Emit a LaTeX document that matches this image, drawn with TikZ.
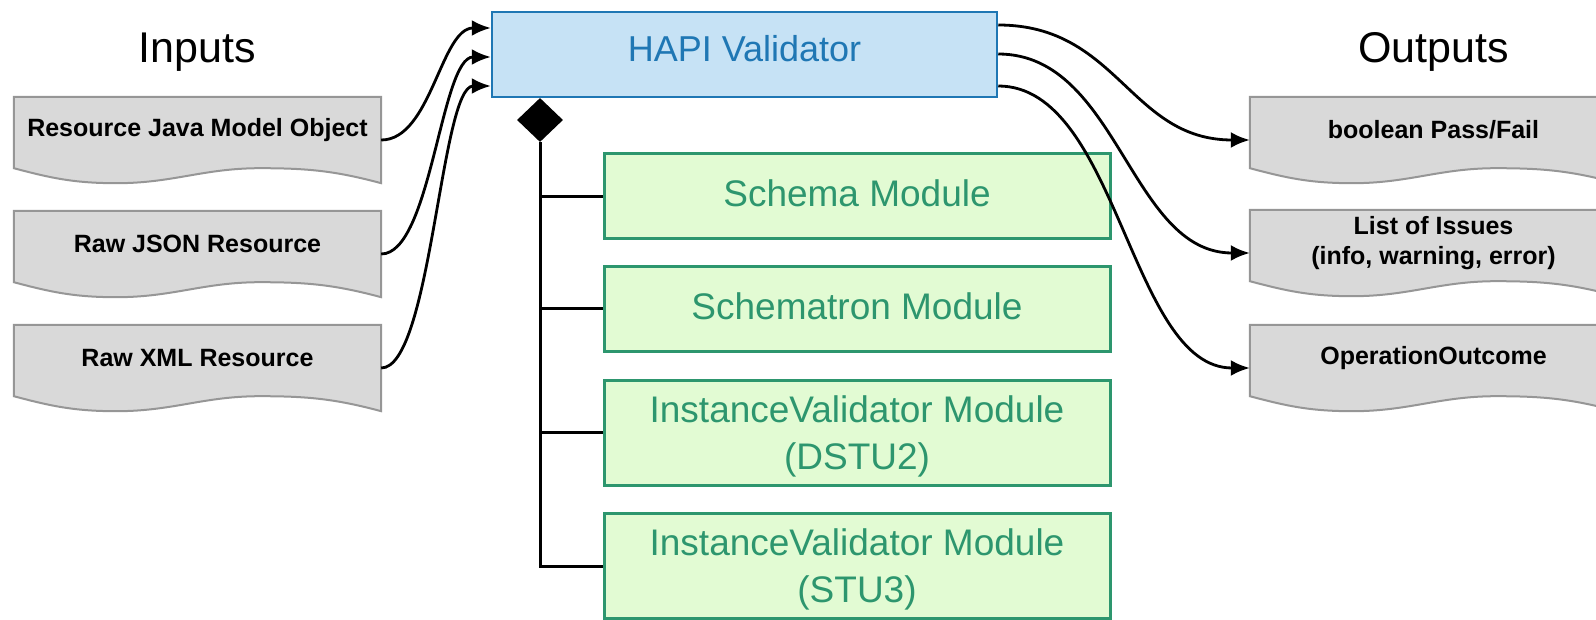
\documentclass[tikz,border=0pt]{standalone}
\usepackage{fontspec}
\setmainfont{Liberation Sans}
\usetikzlibrary{arrows.meta,shapes.geometric,calc,backgrounds}
\definecolor{hapifill}{RGB}{198,226,245}
\definecolor{hapiline}{RGB}{31,119,180}
\definecolor{modfill}{RGB}{226,251,211}
\definecolor{modline}{RGB}{45,150,110}
\definecolor{docfill}{RGB}{217,217,217}
\definecolor{docline}{RGB}{150,150,150}
\begin{document}
\begin{tikzpicture}[x=1pt,y=-1pt,
  docbox/.style={minimum width=367pt,minimum height=86pt,inner sep=0pt},
  doctext/.style={font=\bfseries\fontsize{25}{30}\selectfont,align=center},
  module/.style={draw=modline,fill=modfill,line width=3pt,minimum width=506pt,inner sep=0pt,
    text=modline,align=center,text depth=6pt,font=\fontsize{37}{47}\selectfont},
  title/.style={anchor=base,font=\fontsize{43}{50}\selectfont},
  flow/.style={line width=2.8pt,-{Latex[length=19pt,width=16pt]}},
  tree/.style={line width=3pt}]
\useasboundingbox (0,0) rectangle (1596,620);

\node[title] (inputs) at (197.5,63) {Inputs};
\node[title] (outputs) at (1433.5,63) {Outputs};

\node[draw=hapiline,fill=hapifill,line width=2.5pt,minimum width=505pt,minimum height=85pt,
  text=hapiline,text depth=12pt,font=\fontsize{36}{43}\selectfont] (hapi) at (744.5,54.5) {HAPI Validator};

\node[docbox] (in1) at (197.5,140) {};
\node[docbox] (in2) at (197.5,254) {};
\node[docbox] (in3) at (197.5,368) {};
\node[docbox] (out1) at (1433.5,140) {};
\node[docbox] (out2) at (1433.5,253) {};
\node[docbox] (out3) at (1433.5,368) {};

\begin{scope}[on background layer]
\foreach \n in {in1,in2,in3,out1,out2,out3}
  \draw[fill=docfill,draw=docline,line width=2pt] (\n.north west) -- (\n.north east) -- (\n.south east)
    to[out=165,in=0] ($(\n.south west)!0.67!(\n.south east)+(0pt,15pt)$)
    to[out=180,in=0] ($(\n.south west)!0.28!(\n.south east)$)
    to[out=180,in=-15] ([yshift=15pt]\n.south west) -- cycle;
\end{scope}

\foreach \n/\lbl in {in1/Resource Java Model Object,in2/Raw JSON Resource,in3/Raw XML Resource,
  out1/{boolean Pass/Fail},out2/{List of Issues\\(info, warning, error)},out3/OperationOutcome}
  \node[doctext] (\n txt) at ([yshift=10pt]\n.center) {\lbl};

\node[module,minimum height=85pt] (schema) at (857,196.5) {Schema Module};
\node[module,minimum height=85pt] (schematron) at (857,309) {Schematron Module};
\node[module,minimum height=105pt,text depth=-2pt] (dstu) at (857,432.5) {InstanceValidator Module\\(DSTU2)};
\node[module,minimum height=105pt,text depth=-2pt] (stu) at (857,566) {InstanceValidator Module\\(STU3)};

\node[diamond,fill=black,minimum width=46pt,minimum height=44pt,inner sep=0pt] (comp) at (540,120) {};
\draw[tree] (comp.south) -- (comp.south |- stu.west) -- (stu.west);
\foreach \m in {schema,schematron,dstu}
  \draw[tree] (comp.south |- \m.west) -- (\m.west);

\draw[flow] (in1.east) .. controls +(50,0) and +(-50,0) .. ([yshift=26.5pt]hapi.west);
\draw[flow] (in2.east) .. controls +(50,0) and +(-50,0) .. ([yshift=-2.5pt]hapi.west);
\draw[flow] (in3.east) .. controls +(50,0) and +(-50,0) .. ([yshift=-31.5pt]hapi.west);
\draw[flow] ([yshift=29.5pt]hapi.east) .. controls +(120,0) and +(-120,0) .. (out1.west);
\draw[flow] ([yshift=0.5pt]hapi.east) .. controls +(120,0) and +(-120,0) .. (out2.west);
\draw[flow] ([yshift=-31.5pt]hapi.east) .. controls +(120,0) and +(-120,0) .. (out3.west);
\end{tikzpicture}
\end{document}
